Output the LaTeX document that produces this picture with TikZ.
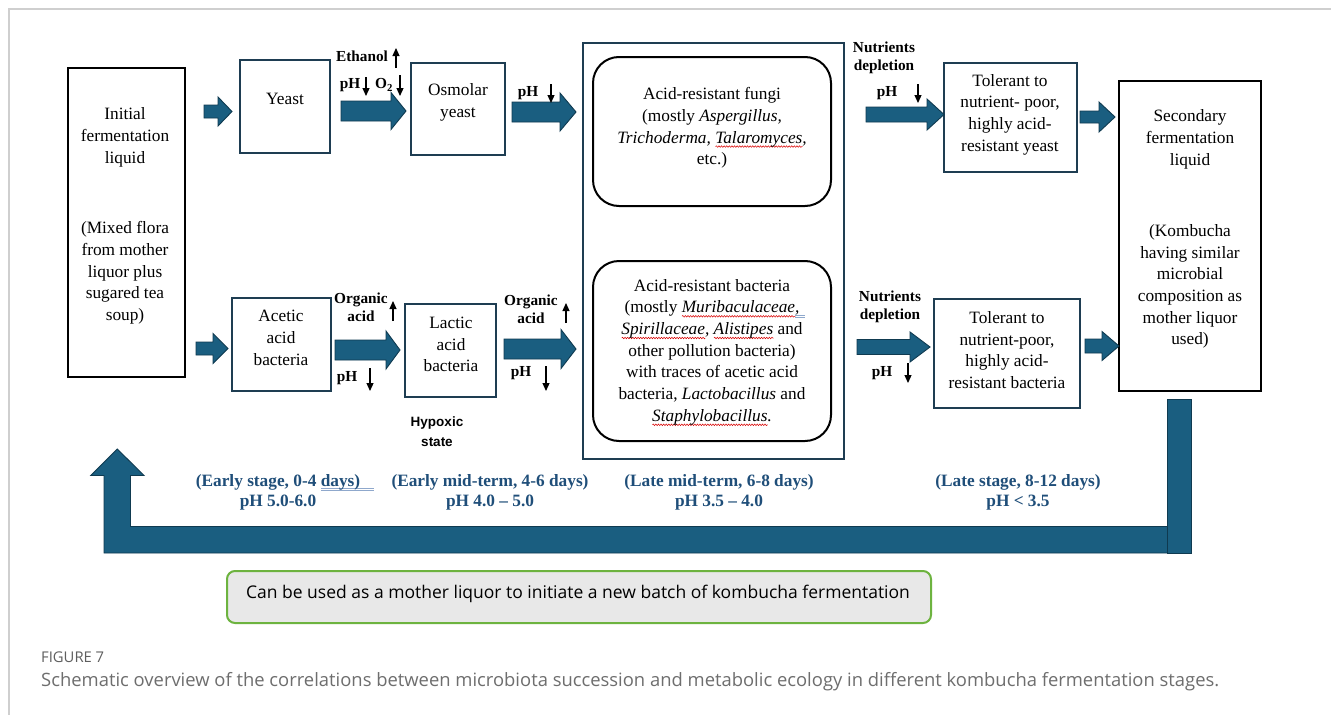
\documentclass[tikz,border=0pt]{standalone}
\usepackage{fontspec}
\setmainfont{Liberation Serif}
\newfontfamily\sansf{Open Sans}
\newfontfamily\arialf{Liberation Sans}
\usetikzlibrary{arrows.meta,decorations.pathmorphing}
\definecolor{arrowblue}{HTML}{1A5E80}
\definecolor{arrowedge}{HTML}{0F3A50}
\definecolor{boxedge}{HTML}{1E3D52}
\definecolor{stageblue}{HTML}{1F4E79}
\definecolor{framegray}{HTML}{CFCFCF}
\definecolor{capgray}{HTML}{6E6E6E}
\definecolor{notegreen}{HTML}{6DB33F}
\definecolor{notefill}{HTML}{E8E8E8}
\definecolor{gramblue}{HTML}{8FA8CC}
\newsavebox\sqbox
\newlength\sqlen
\newcommand\sqw[1]{\sbox\sqbox{#1}\setlength\sqlen{\wd\sqbox}\rlap{\raisebox{-4.5pt}{\tikz\draw[red!85!black, line width=0.5pt, decorate, decoration={snake, amplitude=0.8pt, segment length=2.6pt}] (0pt,0pt) -- (\sqlen,0pt);}}\usebox\sqbox}
\newcommand\dbl[2]{\sbox\sqbox{#1}\setlength\sqlen{\wd\sqbox}\addtolength\sqlen{#2}\rlap{\raisebox{-5pt}{\tikz\draw[gramblue, line width=0.7pt] (0pt,0pt) -- (\sqlen,0pt) (0pt,2.2pt) -- (\sqlen,2.2pt);}}\usebox\sqbox}
\newcommand\blk[6]{\draw[blkarrow] (#1,#3-#4) -- (#6,#3-#4) -- (#6,#3-#5) -- (#2,#3) -- (#6,#3+#5) -- (#6,#3+#4) -- (#1,#3+#4) -- cycle;}
\newcommand\sarr[4]{\coordinate (#1-s) at (#2,#3); \coordinate (#1-e) at (#2,#4); \draw[sarrow] (#1-s) -- (#1-e);}
\begin{document}
\begin{tikzpicture}[x=1pt,y=-1pt,
  tbox/.style={draw=boxedge, line width=1.6pt, inner sep=0pt},
  kbox/.style={draw=black, line width=2pt, inner sep=0pt},
  rbox/.style={draw=black, line width=2pt, rounded corners=26pt, inner sep=0pt},
  txt/.style={font=\fontsize{17.3}{21.7}\selectfont, align=center, inner sep=0pt},
  lbl/.style={font=\fontsize{15.3}{18}\selectfont\bfseries, align=center, inner sep=0pt},
  stage/.style={font=\fontsize{17.3}{20}\selectfont\bfseries, align=center, inner sep=0pt, text=stageblue},
  blkarrow/.style={fill=arrowblue, draw=arrowedge, line width=0.9pt, line join=miter},
  sarrow/.style={line width=1.2pt, -{Triangle[width=7pt,length=8pt]}},
]
\useasboundingbox (0,0) rectangle (1331,715);
\fill[white] (0,0) rectangle (1331,715);
\draw[framegray, line width=2pt] (1331,8.5) -- (8.5,8.5) -- (8.5,715);

% boxes
\node[kbox, minimum width=117pt, minimum height=309pt] (init) at (126.5,222.5) {};
\node[tbox, minimum width=90pt, minimum height=93pt] (yeast) at (285,106.5) {};
\node[tbox, minimum width=94pt, minimum height=92pt] (osm) at (458,109) {};
\node[tbox, minimum width=261pt, minimum height=416pt] (big) at (713.5,251) {};
\node[rbox, minimum width=238pt, minimum height=149pt] (fungi) at (712,131.5) {};
\node[rbox, minimum width=238pt, minimum height=180pt] (bact) at (712,351) {};
\node[tbox, minimum width=133pt, minimum height=109pt] (tyeast) at (1010.5,117.5) {};
\node[kbox, minimum width=142pt, minimum height=310pt] (sec) at (1190,236) {};
\node[tbox, minimum width=99pt, minimum height=93pt] (acetic) at (281.5,344.5) {};
\node[tbox, minimum width=91pt, minimum height=93pt] (lactic) at (450.5,350.5) {};
\node[tbox, minimum width=146pt, minimum height=109pt] (tbact) at (1007,353.5) {};

% box texts
\node[txt] (initA) at (125,137.5) {Initial\\fermentation\\liquid};
\node[txt] (initB) at (125,273) {(Mixed flora\\from mother\\liquor plus\\sugared tea\\soup)};
\node[txt] (yeastT) at (285,99) {Yeast};
\node[txt] (osmT) at (458,102.5) {Osmolar\\yeast};
\node[txt] (fungiT) at (712,128) {Acid-resistant fungi\\(mostly \textit{Aspergillus,}\\\textit{Trichoderma, \sqw{Talaromyces},}\\etc.)};
\node[txt] (bactT) at (712,352.5) {Acid-resistant bacteria\\(mostly \textit{\sqw{Muribaculaceae}\dbl{,}{5pt}}\\\textit{\sqw{Spirillaceae}, \sqw{Alistipes}} and\\other pollution bacteria)\\with traces of acetic acid\\bacteria, \textit{Lactobacillus} and\\\textit{\sqw{Staphylobacillus}.}};
\node[txt] (tyeastT) at (1010,114.5) {Tolerant to\\nutrient- poor,\\highly acid-\\resistant yeast};
\node[txt] (secA) at (1190,139.5) {Secondary\\fermentation\\liquid};
\node[txt] (secB) at (1190,286.5) {(Kombucha\\having similar\\microbial\\composition as\\mother liquor\\used)};
\node[txt] (aceticT) at (281,338) {Acetic\\acid\\bacteria};
\node[txt] (lacticT) at (451,344.5) {Lactic\\acid\\bacteria};
\node[txt] (tbactT) at (1007,350) {Tolerant to\\nutrient-poor,\\highly acid-\\resistant bacteria};

% block arrows, top row
\blk{204}{232}{111.5}{6.5}{14.5}{218}
\blk{341}{406}{111}{10}{18.5}{391}
\blk{512}{576}{112}{10}{19}{560}
\blk{866}{944}{114.5}{7.5}{15.5}{927}
\blk{1080}{1115}{117}{6}{15}{1099}
% block arrows, bottom row
\blk{196}{228}{348.5}{6.5}{15}{213}
\blk{335}{400}{350}{10}{19}{386}
\blk{504}{576}{349}{10}{19.5}{561}
\blk{857}{930}{347}{7.5}{15}{910}
\blk{1085}{1119}{346}{7}{14.5}{1102}

% small labels and arrows
\node[lbl] (eth) at (362,56) {Ethanol};
\sarr{a1}{396}{68}{48}
\node[lbl] (ph1) at (350,85) {pH};
\sarr{a2}{366}{77}{96}
\node[lbl] (o2) at (384,85) {O\textsubscript{2}};
\sarr{a3}{400}{75}{96}
\node[lbl] (ph2) at (528,93) {pH};
\sarr{a4}{551}{84}{103}
\node[lbl] (nd1) at (884,58) {Nutrients\\depletion};
\node[lbl] (ph3) at (887,93) {pH};
\sarr{a5}{918}{84}{103}
\node[lbl] (oa1) at (361,307) {Organic\\acid};
\sarr{a6}{393}{321}{301}
\node[lbl] (ph4) at (347,378) {pH};
\sarr{a7}{370}{368}{391}
\node[lbl] (oa2) at (531,309) {Organic\\acid};
\sarr{a8}{566}{323}{303}
\node[lbl] (ph5) at (521,373) {pH};
\sarr{a9}{546}{366}{391}
\node[lbl] (nd2) at (890,307) {Nutrients\\depletion};
\node[lbl] (ph6) at (882,373) {pH};
\sarr{a10}{908}{363}{383}
\node[font=\arialf\bfseries\fontsize{13.5}{20}\selectfont, align=center, inner sep=0pt] (hyp) at (437,432) {Hypoxic\\state};

% stage labels
\node[stage] (st1) at (278,492) {(Early stage, 0-4 \dbl{days)}{13pt}\\pH 5.0-6.0};
\node[stage] (st2) at (490,492) {(Early mid-term, 4-6 days)\\pH 4.0 – 5.0};
\node[stage] (st3) at (719,492) {(Late mid-term, 6-8 days)\\pH 3.5 – 4.0};
\node[stage] (st4) at (1018,492) {(Late stage, 8-12 days)\\pH < 3.5};

% feedback arrow
\draw[blkarrow] (104,553) -- (1191,553) -- (1191,526.5) -- (130.5,526.5) -- (130.5,475.5) -- (144,475.5) -- (117.3,449) -- (90.7,475.5) -- (104,475.5) -- cycle;
\draw[blkarrow] (1167,399) rectangle (1191,553);

% note
\node[draw=notegreen, line width=2pt, fill=notefill, rounded corners=8pt, minimum width=704pt, minimum height=52pt, inner sep=0pt] (note) at (579,597) {};
\node[font=\sansf\fontsize{17.5}{20}\selectfont, inner sep=0pt] (noteT) at (578,594) {Can be used as a mother liquor to initiate a new batch of kombucha fermentation};

% caption
\node[anchor=west, font=\sansf\fontsize{14.8}{17}\selectfont, text=capgray!85!black, inner sep=0pt] (fig) at (41,657) {FIGURE 7};
\node[anchor=west, font=\sansf\fontsize{18.4}{22}\selectfont, text=capgray, inner sep=0pt] (cap) at (41,682) {Schematic overview of the correlations between microbiota succession and metabolic ecology in different kombucha fermentation stages.};
\end{tikzpicture}
\end{document}
